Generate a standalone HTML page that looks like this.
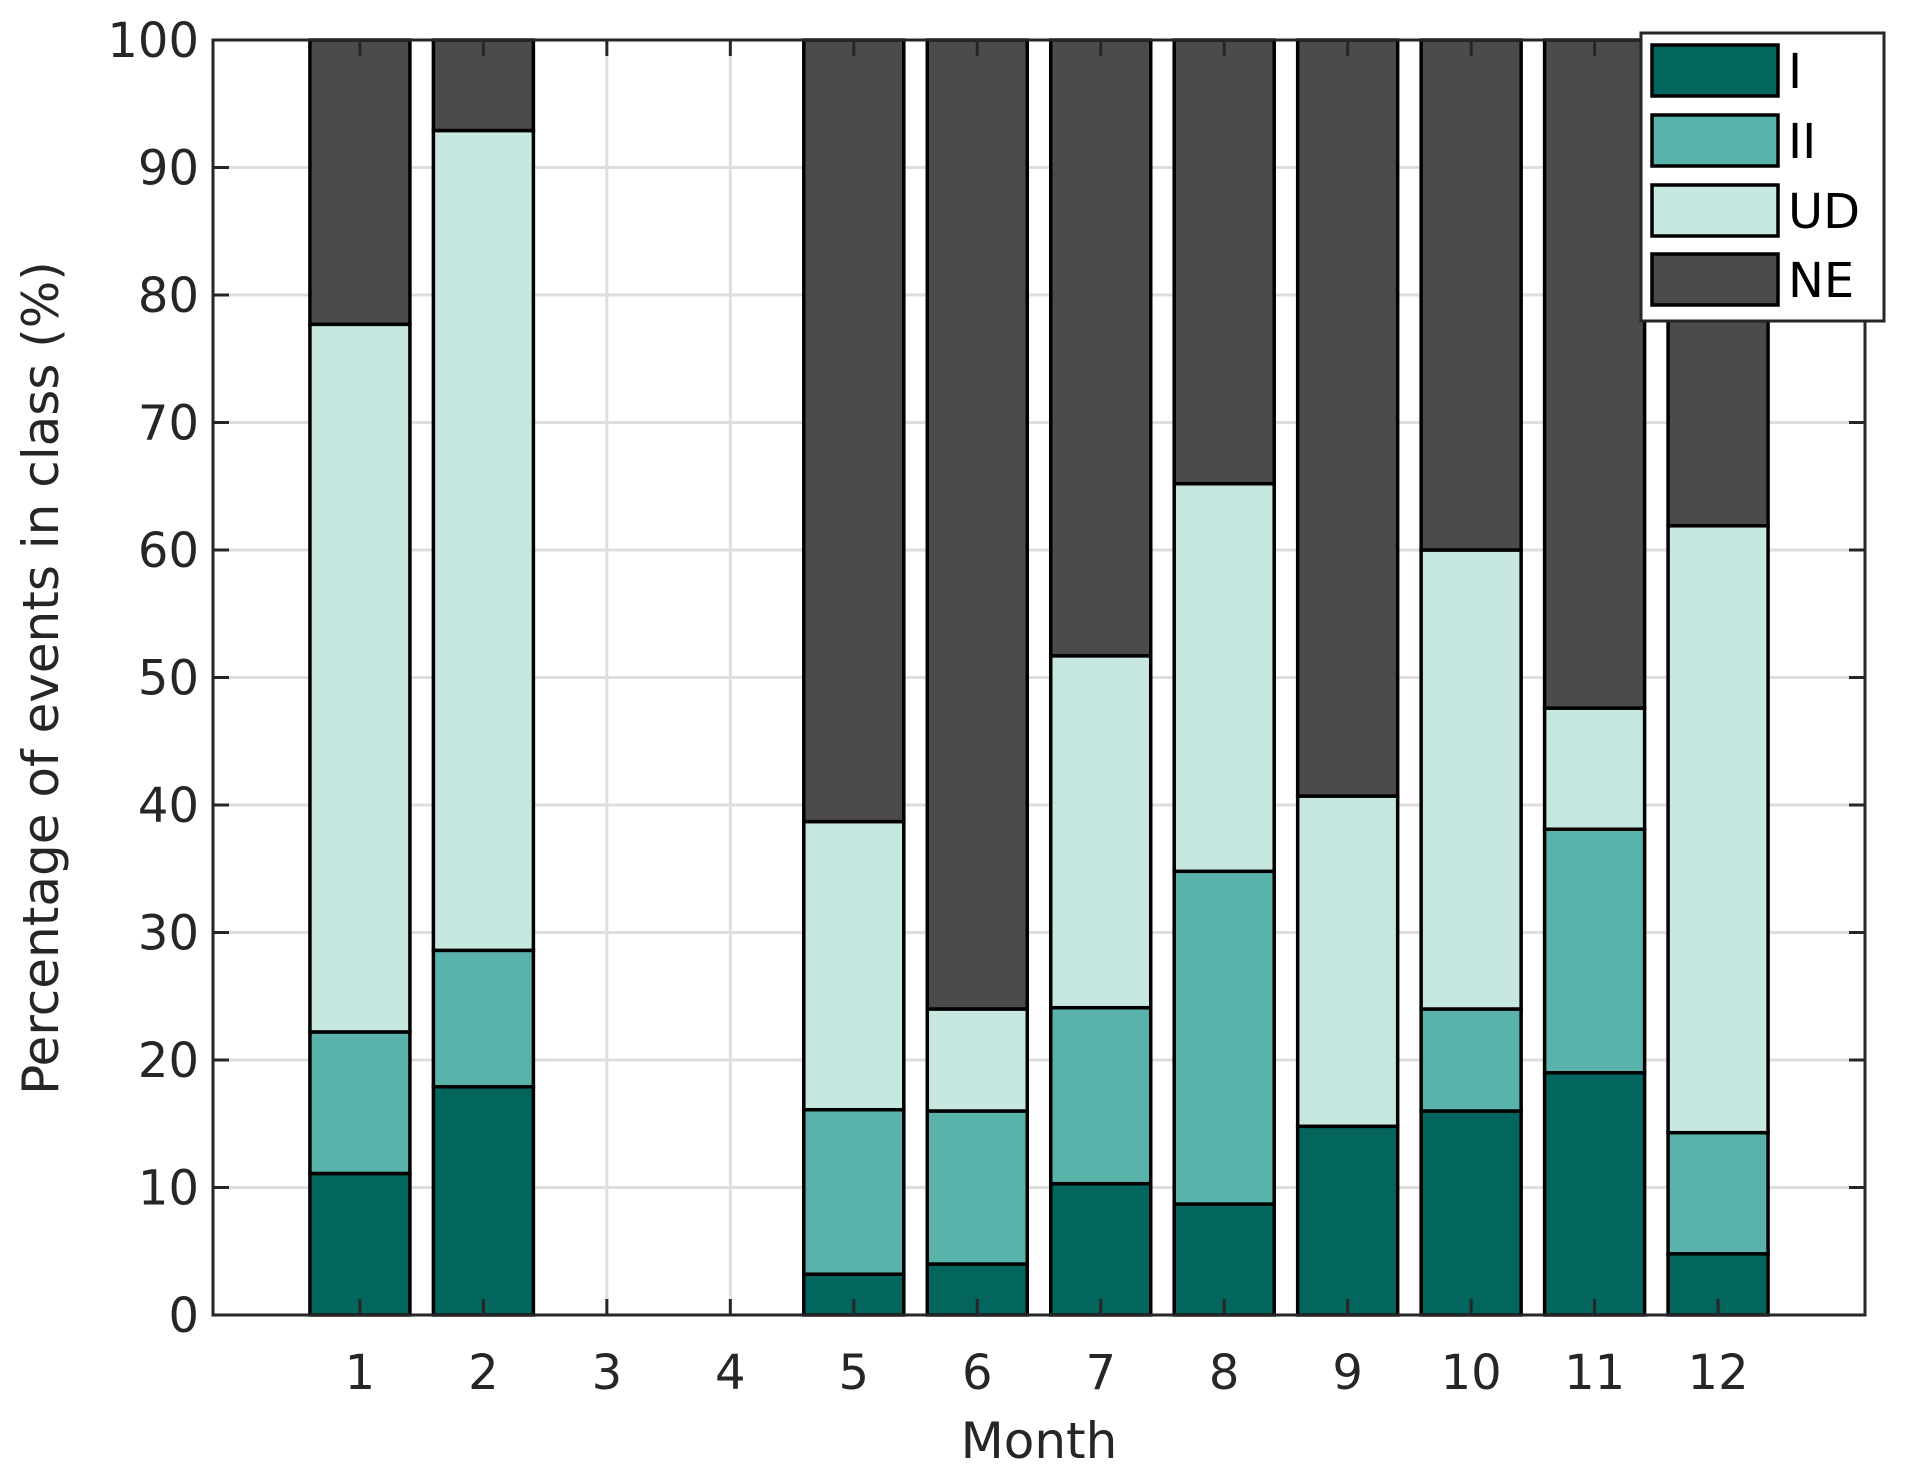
<!DOCTYPE html>
<html><head><meta charset="utf-8"><style>
body{margin:0;background:#fff;}
svg{display:block;font-family:"DejaVu Sans","Liberation Sans",sans-serif;}
</style></head><body>
<svg id="chart" width="1905" height="1480" viewBox="0 0 1905 1480">
<rect width="1905" height="1480" fill="#fff"/>
<g id="grid"></g><g id="bars"></g><g id="axes"></g><g id="legend"></g>
</svg>
<script>
const months = [1,2,3,4,5,6,7,8,9,10,11,12];
const classI  = [11.1,17.9,0,0,3.2,4.0,10.3,8.7,14.8,16.0,19.0,4.8];
const classII = [11.1,10.7,0,0,12.9,12.0,13.8,26.1,0,8.0,19.1,9.5];
const classUD = [55.5,64.3,0,0,22.6,8.0,27.6,30.4,25.9,36.0,9.5,47.6];
const classNE = [22.3,7.1,0,0,61.3,76.0,48.3,34.8,59.3,40.0,52.4,38.1];
const yTicks = [0,10,20,30,40,50,60,70,80,90,100];
const seriesNames = ['I','II','UD','NE'];
const seriesColors = ['#02665e','#5ab3aa','#c6e8e1','#4b4b4b'];

const L=213,R=1865,T=40,B=1315;
const xMin=-0.19,xMax=13.19;
const xs=v=>L+(v-xMin)/(xMax-xMin)*(R-L);
const ys=v=>B-v/100*(B-T);
const NS='http://www.w3.org/2000/svg';
function mk(tag,attrs,parent){const e=document.createElementNS(NS,tag);for(const k in attrs)e.setAttribute(k,attrs[k]);parent.appendChild(e);return e;}
const grid=document.getElementById('grid'),bars=document.getElementById('bars'),axes=document.getElementById('axes'),leg=document.getElementById('legend');

yTicks.forEach(t=>{
  const g=mk('line',{x1:L,x2:R,y1:ys(t),y2:ys(t),stroke:'#dedede','stroke-width':3},grid);
  
  
});
months.forEach(m=>{
  const g=mk('line',{x1:xs(m),x2:xs(m),y1:T,y2:B,stroke:'#dedede','stroke-width':3},grid);
  
  
});

const series=[classI,classII,classUD,classNE];
const bw=100;
months.forEach((m,i)=>{
  let acc=0;
  series.forEach((s,j)=>{
    const v=s[i];
    if(v<=0) return;
    const r=mk('rect',{x:xs(m)-bw/2,y:ys(acc+v),width:bw,height:ys(acc)-ys(acc+v),fill:seriesColors[j],stroke:'#000','stroke-width':3.5},bars);
    
    
    acc+=v;
  });
});

yTicks.forEach(t=>{
  mk('line',{x1:L,x2:L+16,y1:ys(t),y2:ys(t),stroke:'#262626','stroke-width':3},axes);
  mk('line',{x1:R,x2:R-16,y1:ys(t),y2:ys(t),stroke:'#262626','stroke-width':3},axes);
  const tx=mk('text',{x:L-14,y:ys(t)+17,'text-anchor':'end','font-size':48,fill:'#262626'},axes);
  tx.textContent=t;
  
  
});
months.forEach(m=>{
  mk('line',{x1:xs(m),x2:xs(m),y1:B,y2:B-16,stroke:'#262626','stroke-width':3},axes);
  mk('line',{x1:xs(m),x2:xs(m),y1:T,y2:T+16,stroke:'#262626','stroke-width':3},axes);
  const tx=mk('text',{x:xs(m),y:1389,'text-anchor':'middle','font-size':48,fill:'#262626'},axes);
  tx.textContent=m;
  
  
});
const box=mk('rect',{x:L,y:T,width:R-L,height:B-T,fill:'none',stroke:'#262626','stroke-width':3},axes);


const xl=mk('text',{x:(L+R)/2,y:1458,'text-anchor':'middle','font-size':50,fill:'#262626'},axes);
xl.textContent='Month';


const yl=mk('text',{x:0,y:0,'text-anchor':'middle','font-size':50,fill:'#262626',transform:'translate(58,678) rotate(-90)'},axes);
yl.textContent='Percentage of events in class (%)';



const lb=mk('rect',{x:1641,y:33,width:243,height:288,fill:'#fff',stroke:'#262626','stroke-width':3},leg);


const ly=[45,115,185,254];
seriesNames.forEach((n,j)=>{
  const sw=mk('rect',{x:1652,y:ly[j],width:126,height:51,fill:seriesColors[j],stroke:'#000','stroke-width':3.5},leg);
  
  
  const t=mk('text',{x:1788,y:ly[j]+43,'font-size':48,fill:'#000'},leg);
  t.textContent=n;
  
  
});
</script>
</body></html>
